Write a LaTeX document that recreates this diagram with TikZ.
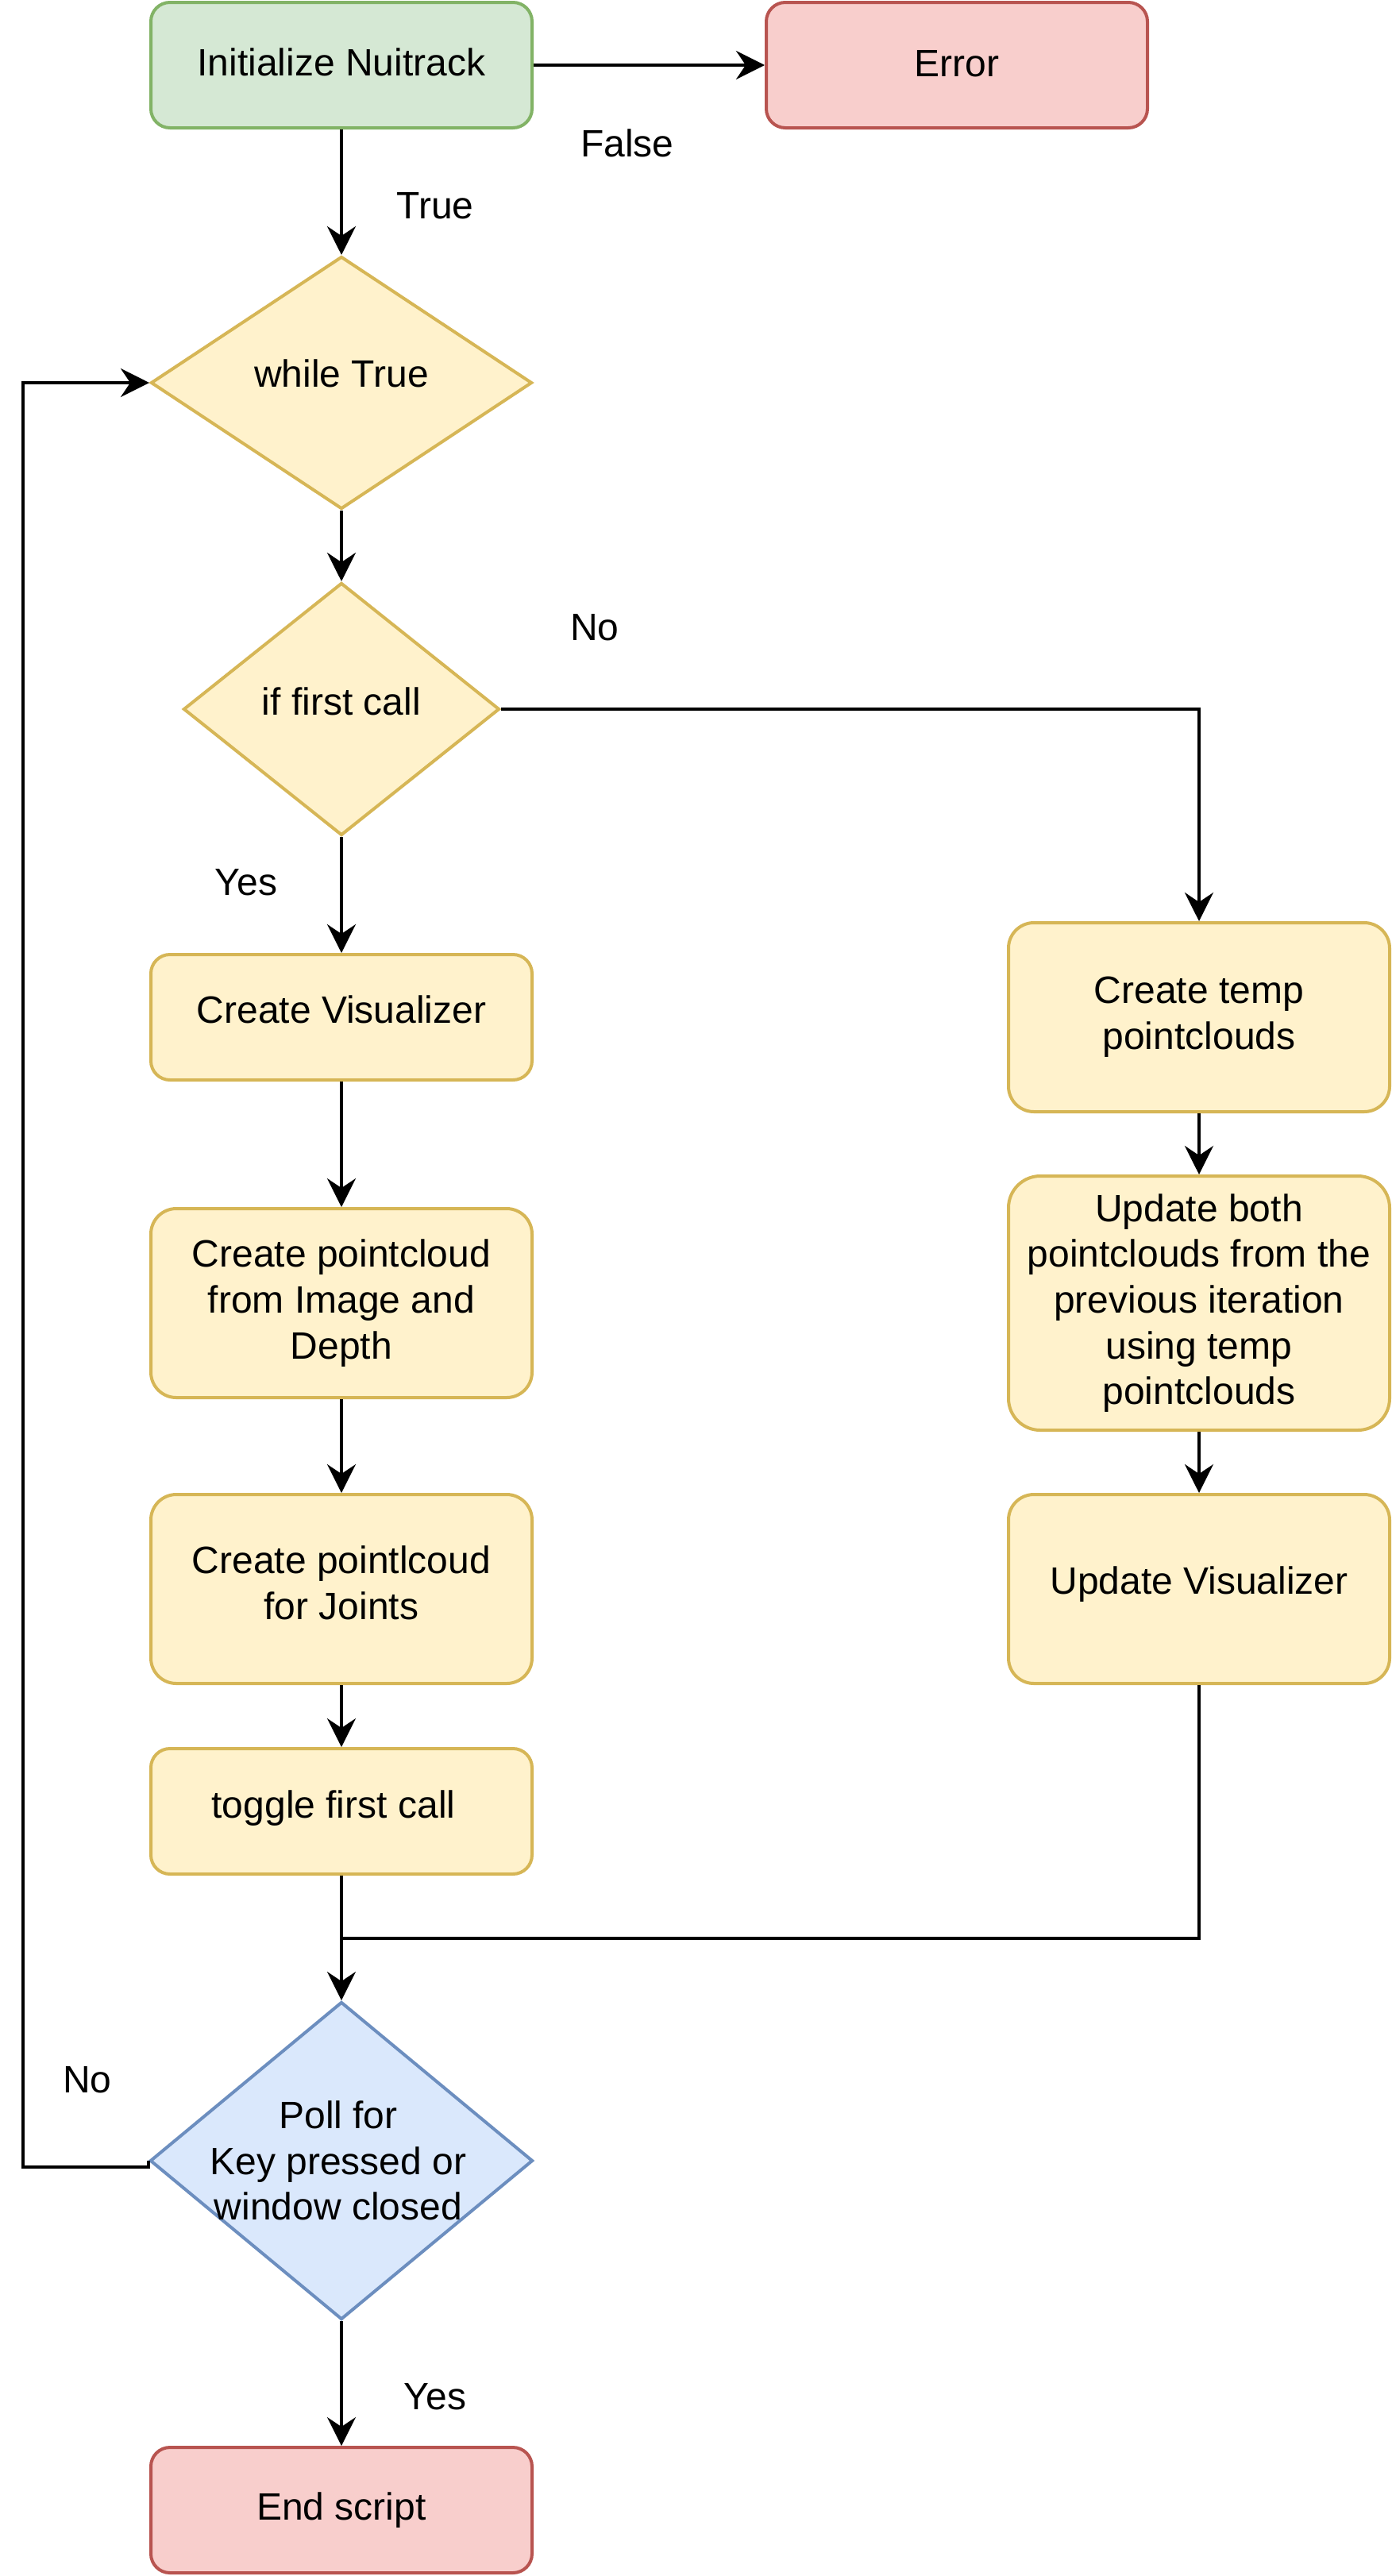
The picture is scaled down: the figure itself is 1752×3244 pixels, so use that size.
\documentclass[tikz,border=0pt]{standalone}
\usepackage{fontspec}
\setmainfont{Liberation Sans}
\usetikzlibrary{shapes.geometric,arrows.meta}
\definecolor{gfill}{HTML}{D5E8D4}\definecolor{gline}{HTML}{82B366}
\definecolor{rfill}{HTML}{F8CECC}\definecolor{rline}{HTML}{B85450}
\definecolor{yfill}{HTML}{FFF2CC}\definecolor{yline}{HTML}{D6B656}
\definecolor{bfill}{HTML}{DAE8FC}\definecolor{bline}{HTML}{6C8EBF}
\tikzset{
  txt/.style={font=\fontsize{24pt}{28.8pt}\selectfont, align=center},
  box/.style={txt, rectangle, rounded corners=12pt, line width=2pt, minimum width=240pt, inner sep=0pt},
  shortbox/.style={box, minimum height=79pt},
  tallbox/.style={box, minimum height=119pt, rounded corners=16pt},
  ybox/.style={fill=yfill, draw=yline},
  decision/.style={diamond, line width=2pt, inner sep=0pt, aspect=1},
  conn/.style={line width=2pt, -{Stealth[length=18pt,width=18pt,inset=6pt]}},
  plain/.style={line width=2pt},
  lbl/.style={txt}
}
\begin{document}
\begin{tikzpicture}[x=0.5pt,y=-0.5pt]
\useasboundingbox (0,0) rectangle (1752,3244);
% nodes
\node[shortbox, fill=gfill, draw=gline, text depth=4pt] (init) at (430,82) {Initialize Nuitrack};
\node[shortbox, fill=rfill, draw=rline, text depth=2pt] (err) at (1205,82) {Error};
\node[decision, fill=yfill, draw=yline, minimum width=240pt, minimum height=159pt,
  label={[txt, yshift=6pt]center:while True}] (while) at (430,482) {};
\node[decision, fill=yfill, draw=yline, minimum width=199pt, minimum height=159pt,
  label={[txt, yshift=5pt]center:if first call}] (first) at (430,893) {};
\node[shortbox, ybox, text depth=10pt] (vis) at (430,1281) {Create Visualizer};
\node[tallbox, ybox] (pc) at (430,1641) {Create pointcloud\\from Image and\\Depth};
\node[tallbox, ybox, text depth=8pt] (joints) at (430,2001) {Create pointlcoud\\for Joints};
\node[shortbox, ybox, text depth=9pt] (toggle) at (430,2281) {\hspace*{-10pt}toggle first call};
\node[tallbox, ybox] (temp) at (1510,1281) {Create temp\\pointclouds};
\node[box, ybox, minimum height=160pt, rounded corners=20pt] (upd) at (1510,1641) {Update both\\pointclouds from the\\previous iteration\\using temp\\pointclouds};
\node[tallbox, ybox, text depth=11pt] (updvis) at (1510,2001) {Update Visualizer};
\node[decision, fill=bfill, draw=bline, minimum width=241pt, minimum height=200pt,
  label={[txt, xshift=-2pt]center:Poll for\\Key pressed or\\window closed}] (poll) at (430,2721) {};
\node[shortbox, fill=rfill, draw=rline] (end) at (430,3161) {End script};
% labels
\node[lbl] (lfalse) at (790,180) {False};
\node[lbl] (ltrue) at (548,259) {True};
\node[lbl] (lno1) at (749,790) {No};
\node[lbl] (lyes1) at (310,1111) {Yes};
\node[lbl] (lno2) at (110,2619) {No};
\node[lbl] (lyes2) at (548,3018) {Yes};
% helper coordinates
\coordinate (merge) at (430,2441);
\coordinate (loopx) at (29,482);
% connectors
\draw[conn] (init) -- (err);
\draw[conn] (init) -- (while);
\draw[conn] (while) -- (first);
\draw[conn] (first.east) -| (temp.north);
\draw[conn] (first) -- (vis);
\draw[conn] (vis) -- (pc);
\draw[conn] (pc) -- (joints);
\draw[conn] (joints) -- (toggle);
\draw[conn] (temp) -- (upd);
\draw[conn] (upd) -- (updvis);
\draw[conn] (toggle) -- (poll.north);
\draw[plain] (updvis.south) |- (merge);
\draw[conn] (poll.west) -- ++(0,8) -| (loopx) -- (while.west);
\draw[conn] (poll) -- (end);
\end{tikzpicture}
\end{document}
